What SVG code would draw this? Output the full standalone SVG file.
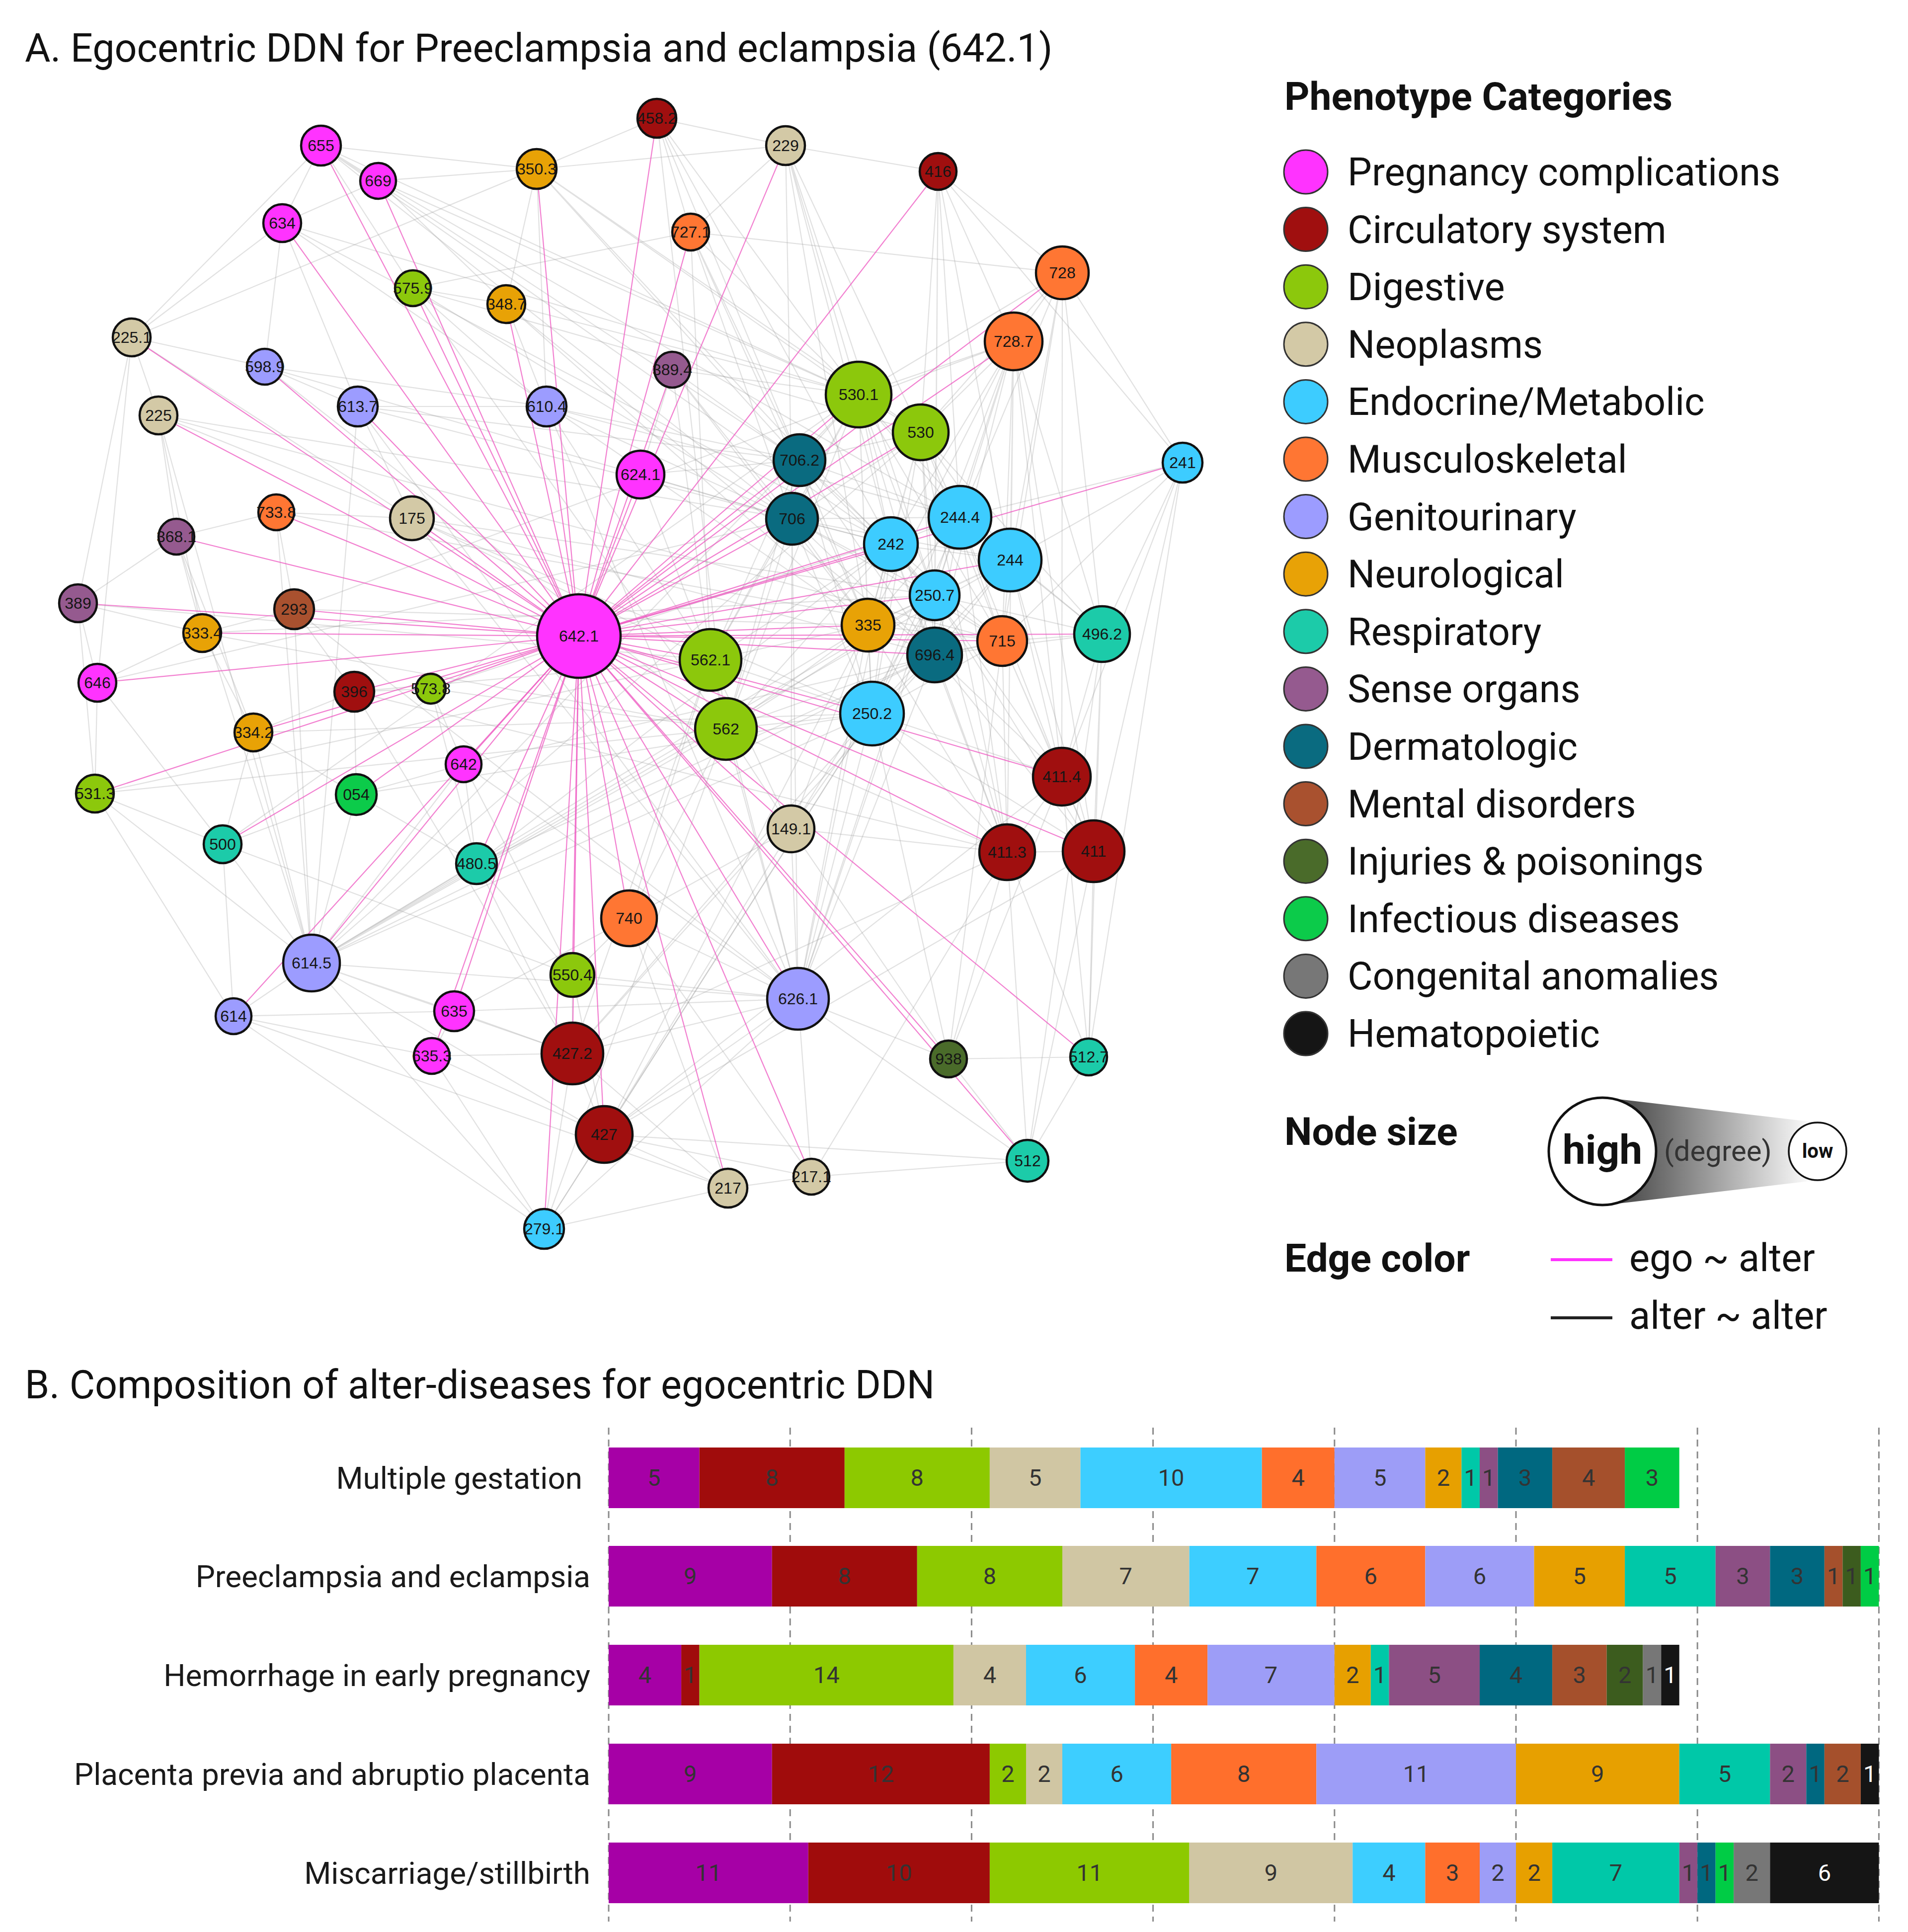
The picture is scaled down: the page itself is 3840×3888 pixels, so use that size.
<svg xmlns="http://www.w3.org/2000/svg" width="3840" height="3888" viewBox="0 0 3840 3888">
<defs>
<style>
.t{font-family:Roboto,"Liberation Sans",sans-serif;fill:#111}
.title{font-size:79px}
.hd{font-size:78.5px;font-weight:bold}
.lg{font-size:77.5px}
.rl{font-size:62px;text-anchor:end;fill:#1a1a1a}
.bn{font-family:Roboto,"Liberation Sans",sans-serif;font-size:47px;text-anchor:middle;fill:#333}
.bw{fill:#fff}
.nd circle{stroke:#111;stroke-width:4.5}
.nd text{font-family:"Liberation Sans",Arial,sans-serif;font-size:32px;text-anchor:middle;fill:#151515}
.lc{stroke:#333;stroke-width:3}
.ge{fill:none;stroke:#9c9c9c;stroke-opacity:0.3;stroke-width:2.2}
.pe line{stroke:#EE55C0;stroke-opacity:0.75;stroke-width:2.2}
.grid{stroke:#8a8a8a;stroke-width:3;stroke-dasharray:14 10}
.preg{fill:#FF33FF}.circ{fill:#A00F0F}.dig{fill:#8CC80C}.neo{fill:#D3C9A6}.endo{fill:#3DCCFF}.musc{fill:#FF7633}.gen{fill:#9C9CFF}.neuro{fill:#E8A206}.resp{fill:#1CCBA9}.sense{fill:#955A8F}.derm{fill:#0A6B80}.ment{fill:#A9512F}.inj{fill:#4A6B2A}.inf{fill:#0CCB4A}.cong{fill:#777777}.hem{fill:#151515}
.bpreg{fill:#A600A6}.bcirc{fill:#A00C0C}.bdig{fill:#8DC900}.bneo{fill:#D0C6A3}.bendo{fill:#3DCEFF}.bmusc{fill:#FF6F2C}.bgen{fill:#9D9DF7}.bneuro{fill:#E7A000}.bresp{fill:#00C8A8}.bsense{fill:#8C4F84}.bderm{fill:#006880}.bment{fill:#A5502C}.binj{fill:#3C5C1E}.binf{fill:#00CC45}.bcong{fill:#777777}.bhem{fill:#151515}
</style>
<linearGradient id="deg" x1="3290" y1="0" x2="3650" y2="0" gradientUnits="userSpaceOnUse">
<stop offset="0" stop-color="#555555"/>
<stop offset="1" stop-color="#ffffff"/>
</linearGradient>
</defs>
<rect x="0" y="0" width="3840" height="3888" fill="#ffffff"/>

<text class="t title" x="50" y="124">A. Egocentric DDN for Preeclampsia and eclampsia (642.1)</text>

<g id="connectors">
<g id="alter-alter-edges">
<path class="ge" d="M646 293L761 364M646 293L568 449M646 293L1080 340M646 293L831 580M646 293L1728 794M646 293L1609 926M646 293L1594 1044M646 293L265 679M646 293L1793 1095"/>
<path class="ge" d="M761 364L1080 340M761 364L1019 612M761 364L1728 794M761 364L1932 1041M761 364L568 449"/>
<path class="ge" d="M1080 340L1019 612M1080 340L1100 818M1080 340L1728 794M1080 340L1853 870M1080 340L1609 926M1080 340L1322 238M1080 340L1581 293M1080 340L1881 1198"/>
<path class="ge" d="M568 449L265 679M568 449L533 738M568 449L1728 794M568 449L1747 1258M568 449L1793 1095M568 449L720 818"/>
<path class="ge" d="M831 580L1019 612M831 580L1100 818M831 580L1853 870M831 580L1461 1467M831 580L1594 1044M831 580L1390 467"/>
<path class="ge" d="M1019 612L1100 818M1019 612L1747 1258M1019 612L1728 794M1019 612L1881 1318"/>
<path class="ge" d="M265 679L319 836M265 679L157 1214M265 679L196 1374M265 679L533 738M265 679L1080 340M265 679L829 1043"/>
<path class="ge" d="M533 738L720 818M533 738L1594 1044M533 738L1461 1467M533 738L1100 818"/>
<path class="ge" d="M319 836L355 1080M319 836L407 1274M319 836L1594 1044M319 836L2017 1290M319 836L627 1938M319 836L829 1043"/>
<path class="ge" d="M720 818L1100 818M720 818L829 1043M720 818L627 1938M720 818L1609 926M720 818L1606 2010M720 818L1793 1095"/>
<path class="ge" d="M1100 818L1430 1328M1100 818L1594 1044M1100 818L1606 2010M1100 818L1609 926M1100 818L1932 1041"/>
<path class="ge" d="M556 1031L592 1226M556 1031L829 1043M556 1031L627 1938M556 1031L2017 1290M556 1031L355 1080"/>
<path class="ge" d="M829 1043L1430 1328M829 1043L1755 1436M829 1043L1606 2010M829 1043L1881 1318M829 1043L1881 1198"/>
<path class="ge" d="M355 1080L157 1214M355 1080L510 1474M355 1080L627 1938M355 1080L407 1274"/>
<path class="ge" d="M157 1214L196 1374M157 1214L191 1597M157 1214L1430 1328M157 1214L407 1274"/>
<path class="ge" d="M592 1226L407 1274M592 1226L713 1392M592 1226L627 1938M592 1226L1606 2010M592 1226L2040 687M592 1226L1747 1258"/>
<path class="ge" d="M407 1274L510 1474M407 1274L196 1374M407 1274L1461 1467M407 1274L1881 1198"/>
<path class="ge" d="M196 1374L191 1597M196 1374L1594 1044M196 1374L448 1699"/>
<path class="ge" d="M713 1392L867 1386M713 1392L510 1474M713 1392L1152 2120M713 1392L1430 1328M713 1392L2027 1715M713 1392L717 1599"/>
<path class="ge" d="M867 1386L959 1738M867 1386L1461 1467M867 1386L1932 1041M867 1386L933 1538"/>
<path class="ge" d="M510 1474L448 1699M510 1474L627 1938M510 1474L717 1599M510 1474L1755 1436"/>
<path class="ge" d="M933 1538L959 1738M933 1538L717 1599M933 1538L627 1938M933 1538L1152 1962M933 1538L1606 2010M933 1538L2017 1290"/>
<path class="ge" d="M191 1597L448 1699M191 1597L470 2045M191 1597L627 1938M191 1597L1461 1467M191 1597L1430 1328"/>
<path class="ge" d="M717 1599L959 1738M717 1599L627 1938M717 1599L1755 1436M717 1599L448 1699"/>
<path class="ge" d="M448 1699L470 2045M448 1699L1152 1962M448 1699L1728 794M448 1699L627 1938"/>
<path class="ge" d="M959 1738L627 1938M959 1738L1152 2120M959 1738L1793 1095M959 1738L1152 1962M959 1738L1881 1318"/>
<path class="ge" d="M627 1938L470 2045M627 1938L914 2035M627 1938L1095 2473M627 1938L1152 2120M627 1938L1606 2010M627 1938L1755 1436M627 1938L1747 1258M627 1938L1728 794M627 1938L1461 1467M627 1938L1881 1318M627 1938L1853 870M627 1938L1881 1198M627 1938L2033 1127M627 1938L1216 2283"/>
<path class="ge" d="M1152 1962L1152 2120M1152 1962L1216 2283M1152 1962L1606 2010M1152 1962L1266 1848"/>
<path class="ge" d="M470 2045L914 2035M470 2045L1095 2473M470 2045L1465 2391M470 2045L869 2125"/>
<path class="ge" d="M914 2035L869 2125M914 2035L1152 2120M914 2035L1606 2010M914 2035L1266 1848"/>
<path class="ge" d="M869 2125L1152 2120M869 2125L1095 2473M869 2125L1216 2283"/>
<path class="ge" d="M1152 2120L1216 2283M1152 2120L1095 2473M1152 2120L1606 2010M1152 2120L1430 1328M1152 2120L1881 1318M1152 2120L1465 2391M1152 2120L1755 1436M1152 2120L2027 1715"/>
<path class="ge" d="M1216 2283L1095 2473M1216 2283L1606 2010M1216 2283L1633 2368M1216 2283L1465 2391M1216 2283L2068 2336M1216 2283L1755 1436M1216 2283L2201 1713M1216 2283L1747 1258M1216 2283L1881 1198M1216 2283L2137 1563"/>
<path class="ge" d="M1095 2473L1465 2391M1095 2473L1606 2010M1095 2473L1461 1467M1095 2473L1755 1436"/>
<path class="ge" d="M1322 238L1581 293M1322 238L1390 467M1322 238L1728 794M1322 238L1609 926M1322 238L1793 1095M1322 238L1461 1467"/>
<path class="ge" d="M1581 293L1888 345M1581 293L1390 467M1581 293L1728 794M1581 293L1853 870M1581 293L1881 1198M1581 293L1594 1044M1581 293L1793 1095M1581 293L1747 1258"/>
<path class="ge" d="M1888 345L2138 549M1888 345L2040 687M1888 345L1853 870M1888 345L1932 1041M1888 345L2033 1127M1888 345L2380 931M1888 345L1881 1198M1888 345L1881 1318"/>
<path class="ge" d="M1390 467L1728 794M1390 467L1609 926M1390 467L1594 1044M1390 467L2138 549M1390 467L1747 1258M1390 467L1430 1328"/>
<path class="ge" d="M2138 549L2040 687M2138 549L2380 931M2138 549L1728 794M2138 549L1853 870M2138 549L1932 1041M2138 549L2218 1276M2138 549L2017 1290M2138 549L2033 1127M2138 549L2137 1563"/>
<path class="ge" d="M2040 687L1728 794M2040 687L1853 870M2040 687L1793 1095M2040 687L2033 1127M2040 687L1881 1198M2040 687L2017 1290M2040 687L2218 1276M2040 687L2137 1563M2040 687L2027 1715M2040 687L2201 1713M2040 687L1881 1318M2040 687L1747 1258M2040 687L1755 1436M2040 687L1606 2010"/>
<path class="ge" d="M1353 744L1609 926M1353 744L1728 794M1353 744L1430 1328M1353 744L1594 1044M1353 744L1747 1258"/>
<path class="ge" d="M2380 931L2218 1276M2380 931L2191 2127M2380 931L2201 1713M2380 931L2033 1127M2380 931L1932 1041M2380 931L2017 1290M2380 931L2137 1563"/>
<path class="ge" d="M1289 955L1609 926M1289 955L1594 1044M1289 955L1430 1328M1289 955L1353 744"/>
<path class="ge" d="M1728 794L1853 870M1728 794L1609 926M1728 794L1594 1044M1728 794L1932 1041M1728 794L1793 1095M1728 794L2033 1127M1728 794L1881 1198M1728 794L1747 1258M1728 794L1881 1318M1728 794L2017 1290M1728 794L1430 1328M1728 794L1461 1467M1728 794L1755 1436"/>
<path class="ge" d="M1853 870L1609 926M1853 870L1594 1044M1853 870L1932 1041M1853 870L1793 1095M1853 870L2033 1127M1853 870L1881 1198M1853 870L1747 1258M1853 870L1881 1318M1853 870L2017 1290M1853 870L2218 1276M1853 870L1755 1436M1853 870L2027 1715"/>
<path class="ge" d="M1609 926L1594 1044M1609 926L1932 1041M1609 926L1793 1095M1609 926L1881 1198M1609 926L1747 1258M1609 926L1881 1318M1609 926L1430 1328M1609 926L1461 1467M1609 926L1755 1436"/>
<path class="ge" d="M1594 1044L1932 1041M1594 1044L1793 1095M1594 1044L2033 1127M1594 1044L1881 1198M1594 1044L1747 1258M1594 1044L1881 1318M1594 1044L2017 1290M1594 1044L1430 1328M1594 1044L1461 1467M1594 1044L1755 1436M1594 1044L1592 1668M1594 1044L1606 2010"/>
<path class="ge" d="M1932 1041L1793 1095M1932 1041L2033 1127M1932 1041L1881 1198M1932 1041L1747 1258M1932 1041L1881 1318M1932 1041L2017 1290M1932 1041L2218 1276M1932 1041L1755 1436M1932 1041L2137 1563M1932 1041L2027 1715"/>
<path class="ge" d="M1793 1095L2033 1127M1793 1095L1881 1198M1793 1095L1747 1258M1793 1095L1881 1318M1793 1095L2017 1290M1793 1095L1430 1328M1793 1095L1461 1467M1793 1095L1755 1436M1793 1095L2027 1715M1793 1095L1606 2010"/>
<path class="ge" d="M2033 1127L1881 1198M2033 1127L1747 1258M2033 1127L1881 1318M2033 1127L2017 1290M2033 1127L2218 1276M2033 1127L1755 1436M2033 1127L2137 1563M2033 1127L2201 1713"/>
<path class="ge" d="M1881 1198L1747 1258M1881 1198L1881 1318M1881 1198L2017 1290M1881 1198L2218 1276M1881 1198L1461 1467M1881 1198L1755 1436M1881 1198L2137 1563M1881 1198L2027 1715M1881 1198L2201 1713M1881 1198L1606 2010"/>
<path class="ge" d="M1747 1258L1881 1318M1747 1258L2017 1290M1747 1258L1430 1328M1747 1258L1461 1467M1747 1258L1755 1436M1747 1258L1592 1668M1747 1258L2027 1715M1747 1258L1606 2010"/>
<path class="ge" d="M1881 1318L2017 1290M1881 1318L2218 1276M1881 1318L1755 1436M1881 1318L2137 1563M1881 1318L2027 1715M1881 1318L2201 1713M1881 1318L1606 2010M1881 1318L1461 1467"/>
<path class="ge" d="M2017 1290L2218 1276M2017 1290L1755 1436M2017 1290L2137 1563M2017 1290L2027 1715M2017 1290L2201 1713M2017 1290L1909 2131"/>
<path class="ge" d="M2218 1276L2137 1563M2218 1276L2201 1713M2218 1276L2191 2127M2218 1276L2068 2336"/>
<path class="ge" d="M1430 1328L1461 1467M1430 1328L1755 1436M1430 1328L1592 1668M1430 1328L1266 1848M1430 1328L1606 2010"/>
<path class="ge" d="M1461 1467L1755 1436M1461 1467L1592 1668M1461 1467L1266 1848M1461 1467L1606 2010M1461 1467L2027 1715"/>
<path class="ge" d="M1755 1436L2137 1563M1755 1436L1592 1668M1755 1436L2027 1715M1755 1436L2201 1713M1755 1436L1606 2010M1755 1436L1909 2131"/>
<path class="ge" d="M2137 1563L2027 1715M2137 1563L2201 1713M2137 1563L1909 2131M2137 1563L2191 2127"/>
<path class="ge" d="M1592 1668L1606 2010M1592 1668L1909 2131M1592 1668L2027 1715M1592 1668L1266 1848"/>
<path class="ge" d="M2027 1715L2201 1713M2027 1715L1909 2131M2027 1715L2191 2127M2027 1715L2068 2336M2027 1715L1633 2368"/>
<path class="ge" d="M2201 1713L2191 2127M2201 1713L2068 2336M1266 1848L1606 2010M1266 1848L1465 2391M1266 1848L1633 2368M1606 2010L1909 2131M1606 2010L2068 2336M1606 2010L1633 2368M1909 2131L2191 2127M1909 2131L2068 2336M2191 2127L2068 2336M2068 2336L1633 2368M1465 2391L1633 2368"/>
</g>
<g id="ego-alter-edges" class="pe">
<line x1="1165" y1="1280" x2="646" y2="293"/>
<line x1="1165" y1="1280" x2="761" y2="364"/>
<line x1="1165" y1="1280" x2="1080" y2="340"/>
<line x1="1165" y1="1280" x2="568" y2="449"/>
<line x1="1165" y1="1280" x2="831" y2="580"/>
<line x1="1165" y1="1280" x2="1019" y2="612"/>
<line x1="1165" y1="1280" x2="265" y2="679"/>
<line x1="1165" y1="1280" x2="533" y2="738"/>
<line x1="1165" y1="1280" x2="319" y2="836"/>
<line x1="1165" y1="1280" x2="720" y2="818"/>
<line x1="1165" y1="1280" x2="1100" y2="818"/>
<line x1="1165" y1="1280" x2="556" y2="1031"/>
<line x1="1165" y1="1280" x2="829" y2="1043"/>
<line x1="1165" y1="1280" x2="355" y2="1080"/>
<line x1="1165" y1="1280" x2="157" y2="1214"/>
<line x1="1165" y1="1280" x2="592" y2="1226"/>
<line x1="1165" y1="1280" x2="407" y2="1274"/>
<line x1="1165" y1="1280" x2="196" y2="1374"/>
<line x1="1165" y1="1280" x2="713" y2="1392"/>
<line x1="1165" y1="1280" x2="867" y2="1386"/>
<line x1="1165" y1="1280" x2="510" y2="1474"/>
<line x1="1165" y1="1280" x2="933" y2="1538"/>
<line x1="1165" y1="1280" x2="191" y2="1597"/>
<line x1="1165" y1="1280" x2="717" y2="1599"/>
<line x1="1165" y1="1280" x2="448" y2="1699"/>
<line x1="1165" y1="1280" x2="959" y2="1738"/>
<line x1="1165" y1="1280" x2="627" y2="1938"/>
<line x1="1165" y1="1280" x2="1152" y2="1962"/>
<line x1="1165" y1="1280" x2="470" y2="2045"/>
<line x1="1165" y1="1280" x2="914" y2="2035"/>
<line x1="1165" y1="1280" x2="869" y2="2125"/>
<line x1="1165" y1="1280" x2="1152" y2="2120"/>
<line x1="1165" y1="1280" x2="1216" y2="2283"/>
<line x1="1165" y1="1280" x2="1095" y2="2473"/>
<line x1="1165" y1="1280" x2="1322" y2="238"/>
<line x1="1165" y1="1280" x2="1581" y2="293"/>
<line x1="1165" y1="1280" x2="1888" y2="345"/>
<line x1="1165" y1="1280" x2="1390" y2="467"/>
<line x1="1165" y1="1280" x2="2138" y2="549"/>
<line x1="1165" y1="1280" x2="2040" y2="687"/>
<line x1="1165" y1="1280" x2="1353" y2="744"/>
<line x1="1165" y1="1280" x2="1728" y2="794"/>
<line x1="1165" y1="1280" x2="1853" y2="870"/>
<line x1="1165" y1="1280" x2="2380" y2="931"/>
<line x1="1165" y1="1280" x2="1289" y2="955"/>
<line x1="1165" y1="1280" x2="1609" y2="926"/>
<line x1="1165" y1="1280" x2="1594" y2="1044"/>
<line x1="1165" y1="1280" x2="1932" y2="1041"/>
<line x1="1165" y1="1280" x2="1793" y2="1095"/>
<line x1="1165" y1="1280" x2="2033" y2="1127"/>
<line x1="1165" y1="1280" x2="1881" y2="1198"/>
<line x1="1165" y1="1280" x2="1747" y2="1258"/>
<line x1="1165" y1="1280" x2="1881" y2="1318"/>
<line x1="1165" y1="1280" x2="2017" y2="1290"/>
<line x1="1165" y1="1280" x2="2218" y2="1276"/>
<line x1="1165" y1="1280" x2="1430" y2="1328"/>
<line x1="1165" y1="1280" x2="1461" y2="1467"/>
<line x1="1165" y1="1280" x2="1755" y2="1436"/>
<line x1="1165" y1="1280" x2="2137" y2="1563"/>
<line x1="1165" y1="1280" x2="1592" y2="1668"/>
<line x1="1165" y1="1280" x2="2027" y2="1715"/>
<line x1="1165" y1="1280" x2="2201" y2="1713"/>
<line x1="1165" y1="1280" x2="1266" y2="1848"/>
<line x1="1165" y1="1280" x2="1606" y2="2010"/>
<line x1="1165" y1="1280" x2="1909" y2="2131"/>
<line x1="1165" y1="1280" x2="2191" y2="2127"/>
<line x1="1165" y1="1280" x2="2068" y2="2336"/>
<line x1="1165" y1="1280" x2="1465" y2="2391"/>
<line x1="1165" y1="1280" x2="1633" y2="2368"/>
</g>
</g>

<g id="nodes">
<g id="n655" class="nd"><circle cx="646" cy="293" r="40" class="preg"/><text x="646" y="304">655</text></g>
<g id="n669" class="nd"><circle cx="761" cy="364" r="36" class="preg"/><text x="761" y="375">669</text></g>
<g id="n350_3" class="nd"><circle cx="1080" cy="340" r="40" class="neuro"/><text x="1080" y="351">350.3</text></g>
<g id="n634" class="nd"><circle cx="568" cy="449" r="38" class="preg"/><text x="568" y="460">634</text></g>
<g id="n575_9" class="nd"><circle cx="831" cy="580" r="36" class="dig"/><text x="831" y="591">575.9</text></g>
<g id="n348_7" class="nd"><circle cx="1019" cy="612" r="38" class="neuro"/><text x="1019" y="623">348.7</text></g>
<g id="n225_1" class="nd"><circle cx="265" cy="679" r="38" class="neo"/><text x="265" y="690">225.1</text></g>
<g id="n598_9" class="nd"><circle cx="533" cy="738" r="36" class="gen"/><text x="533" y="749">598.9</text></g>
<g id="n225" class="nd"><circle cx="319" cy="836" r="38" class="neo"/><text x="319" y="847">225</text></g>
<g id="n613_7" class="nd"><circle cx="720" cy="818" r="40" class="gen"/><text x="720" y="829">613.7</text></g>
<g id="n610_4" class="nd"><circle cx="1100" cy="818" r="40" class="gen"/><text x="1100" y="829">610.4</text></g>
<g id="n733_8" class="nd"><circle cx="556" cy="1031" r="36" class="musc"/><text x="556" y="1042">733.8</text></g>
<g id="n175" class="nd"><circle cx="829" cy="1043" r="44" class="neo"/><text x="829" y="1054">175</text></g>
<g id="n368_1" class="nd"><circle cx="355" cy="1080" r="36" class="sense"/><text x="355" y="1091">368.1</text></g>
<g id="n389" class="nd"><circle cx="157" cy="1214" r="38" class="sense"/><text x="157" y="1225">389</text></g>
<g id="n293" class="nd"><circle cx="592" cy="1226" r="40" class="ment"/><text x="592" y="1237">293</text></g>
<g id="n333_4" class="nd"><circle cx="407" cy="1274" r="38" class="neuro"/><text x="407" y="1285">333.4</text></g>
<g id="n646" class="nd"><circle cx="196" cy="1374" r="38" class="preg"/><text x="196" y="1385">646</text></g>
<g id="n396" class="nd"><circle cx="713" cy="1392" r="40" class="circ"/><text x="713" y="1403">396</text></g>
<g id="n573_8" class="nd"><circle cx="867" cy="1386" r="30" class="dig"/><text x="867" y="1397">573.8</text></g>
<g id="n334_2" class="nd"><circle cx="510" cy="1474" r="38" class="neuro"/><text x="510" y="1485">334.2</text></g>
<g id="n642" class="nd"><circle cx="933" cy="1538" r="36" class="preg"/><text x="933" y="1549">642</text></g>
<g id="n531_3" class="nd"><circle cx="191" cy="1597" r="38" class="dig"/><text x="191" y="1608">531.3</text></g>
<g id="n054" class="nd"><circle cx="717" cy="1599" r="41" class="inf"/><text x="717" y="1610">054</text></g>
<g id="n500" class="nd"><circle cx="448" cy="1699" r="38" class="resp"/><text x="448" y="1710">500</text></g>
<g id="n480_5" class="nd"><circle cx="959" cy="1738" r="41" class="resp"/><text x="959" y="1749">480.5</text></g>
<g id="n614_5" class="nd"><circle cx="627" cy="1938" r="57" class="gen"/><text x="627" y="1949">614.5</text></g>
<g id="n550_4" class="nd"><circle cx="1152" cy="1962" r="44" class="dig"/><text x="1152" y="1973">550.4</text></g>
<g id="n614" class="nd"><circle cx="470" cy="2045" r="36" class="gen"/><text x="470" y="2056">614</text></g>
<g id="n635" class="nd"><circle cx="914" cy="2035" r="40" class="preg"/><text x="914" y="2046">635</text></g>
<g id="n635_3" class="nd"><circle cx="869" cy="2125" r="36" class="preg"/><text x="869" y="2136">635.3</text></g>
<g id="n427_2" class="nd"><circle cx="1152" cy="2120" r="62" class="circ"/><text x="1152" y="2131">427.2</text></g>
<g id="n427" class="nd"><circle cx="1216" cy="2283" r="57" class="circ"/><text x="1216" y="2294">427</text></g>
<g id="n279_1" class="nd"><circle cx="1095" cy="2473" r="40" class="endo"/><text x="1095" y="2484">279.1</text></g>
<g id="n458_2" class="nd"><circle cx="1322" cy="238" r="39" class="circ"/><text x="1322" y="249">458.2</text></g>
<g id="n229" class="nd"><circle cx="1581" cy="293" r="39" class="neo"/><text x="1581" y="304">229</text></g>
<g id="n416" class="nd"><circle cx="1888" cy="345" r="37" class="circ"/><text x="1888" y="356">416</text></g>
<g id="n727_1" class="nd"><circle cx="1390" cy="467" r="37" class="musc"/><text x="1390" y="478">727.1</text></g>
<g id="n728" class="nd"><circle cx="2138" cy="549" r="53" class="musc"/><text x="2138" y="560">728</text></g>
<g id="n728_7" class="nd"><circle cx="2040" cy="687" r="58" class="musc"/><text x="2040" y="698">728.7</text></g>
<g id="n389_4" class="nd"><circle cx="1353" cy="744" r="36" class="sense"/><text x="1353" y="755">389.4</text></g>
<g id="n530_1" class="nd"><circle cx="1728" cy="794" r="66" class="dig"/><text x="1728" y="805">530.1</text></g>
<g id="n530" class="nd"><circle cx="1853" cy="870" r="56" class="dig"/><text x="1853" y="881">530</text></g>
<g id="n241" class="nd"><circle cx="2380" cy="931" r="40" class="endo"/><text x="2380" y="942">241</text></g>
<g id="n624_1" class="nd"><circle cx="1289" cy="955" r="48" class="preg"/><text x="1289" y="966">624.1</text></g>
<g id="n706_2" class="nd"><circle cx="1609" cy="926" r="52" class="derm"/><text x="1609" y="937">706.2</text></g>
<g id="n706" class="nd"><circle cx="1594" cy="1044" r="52" class="derm"/><text x="1594" y="1055">706</text></g>
<g id="n244_4" class="nd"><circle cx="1932" cy="1041" r="63" class="endo"/><text x="1932" y="1052">244.4</text></g>
<g id="n242" class="nd"><circle cx="1793" cy="1095" r="54" class="endo"/><text x="1793" y="1106">242</text></g>
<g id="n244" class="nd"><circle cx="2033" cy="1127" r="63" class="endo"/><text x="2033" y="1138">244</text></g>
<g id="n250_7" class="nd"><circle cx="1881" cy="1198" r="50" class="endo"/><text x="1881" y="1209">250.7</text></g>
<g id="n335" class="nd"><circle cx="1747" cy="1258" r="53" class="neuro"/><text x="1747" y="1269">335</text></g>
<g id="n696_4" class="nd"><circle cx="1881" cy="1318" r="55" class="derm"/><text x="1881" y="1329">696.4</text></g>
<g id="n715" class="nd"><circle cx="2017" cy="1290" r="50" class="musc"/><text x="2017" y="1301">715</text></g>
<g id="n496_2" class="nd"><circle cx="2218" cy="1276" r="56" class="resp"/><text x="2218" y="1287">496.2</text></g>
<g id="n562_1" class="nd"><circle cx="1430" cy="1328" r="62" class="dig"/><text x="1430" y="1339">562.1</text></g>
<g id="n562" class="nd"><circle cx="1461" cy="1467" r="62" class="dig"/><text x="1461" y="1478">562</text></g>
<g id="n250_2" class="nd"><circle cx="1755" cy="1436" r="64" class="endo"/><text x="1755" y="1447">250.2</text></g>
<g id="n411_4" class="nd"><circle cx="2137" cy="1563" r="58" class="circ"/><text x="2137" y="1574">411.4</text></g>
<g id="n149_1" class="nd"><circle cx="1592" cy="1668" r="47" class="neo"/><text x="1592" y="1679">149.1</text></g>
<g id="n411_3" class="nd"><circle cx="2027" cy="1715" r="56" class="circ"/><text x="2027" y="1726">411.3</text></g>
<g id="n411" class="nd"><circle cx="2201" cy="1713" r="62" class="circ"/><text x="2201" y="1724">411</text></g>
<g id="n740" class="nd"><circle cx="1266" cy="1848" r="56" class="musc"/><text x="1266" y="1859">740</text></g>
<g id="n626_1" class="nd"><circle cx="1606" cy="2010" r="62" class="gen"/><text x="1606" y="2021">626.1</text></g>
<g id="n938" class="nd"><circle cx="1909" cy="2131" r="37" class="inj"/><text x="1909" y="2142">938</text></g>
<g id="n512_7" class="nd"><circle cx="2191" cy="2127" r="37" class="resp"/><text x="2191" y="2138">512.7</text></g>
<g id="n512" class="nd"><circle cx="2068" cy="2336" r="42" class="resp"/><text x="2068" y="2347">512</text></g>
<g id="n217" class="nd"><circle cx="1465" cy="2391" r="39" class="neo"/><text x="1465" y="2402">217</text></g>
<g id="n217_1" class="nd"><circle cx="1633" cy="2368" r="36" class="neo"/><text x="1633" y="2379">217.1</text></g>
<g id="n642_1" class="nd"><circle cx="1165" cy="1280" r="84" class="preg"/><text x="1165" y="1291">642.1</text></g>
</g>

<g id="legend">
<text class="t hd" x="2585" y="221">Phenotype Categories</text>
<circle class="lc preg" cx="2628" cy="346" r="44"/><text class="t lg" x="2712" y="373">Pregnancy complications</text>
<circle class="lc circ" cx="2628" cy="461.6" r="44"/><text class="t lg" x="2712" y="488.6">Circulatory system</text>
<circle class="lc dig" cx="2628" cy="577.2" r="44"/><text class="t lg" x="2712" y="604.2">Digestive</text>
<circle class="lc neo" cx="2628" cy="692.8" r="44"/><text class="t lg" x="2712" y="719.8">Neoplasms</text>
<circle class="lc endo" cx="2628" cy="808.4" r="44"/><text class="t lg" x="2712" y="835.4">Endocrine/Metabolic</text>
<circle class="lc musc" cx="2628" cy="924" r="44"/><text class="t lg" x="2712" y="951">Musculoskeletal</text>
<circle class="lc gen" cx="2628" cy="1039.6" r="44"/><text class="t lg" x="2712" y="1066.6">Genitourinary</text>
<circle class="lc neuro" cx="2628" cy="1155.2" r="44"/><text class="t lg" x="2712" y="1182.2">Neurological</text>
<circle class="lc resp" cx="2628" cy="1270.8" r="44"/><text class="t lg" x="2712" y="1297.8">Respiratory</text>
<circle class="lc sense" cx="2628" cy="1386.4" r="44"/><text class="t lg" x="2712" y="1413.4">Sense organs</text>
<circle class="lc derm" cx="2628" cy="1502" r="44"/><text class="t lg" x="2712" y="1529">Dermatologic</text>
<circle class="lc ment" cx="2628" cy="1617.6" r="44"/><text class="t lg" x="2712" y="1644.6">Mental disorders</text>
<circle class="lc inj" cx="2628" cy="1733.2" r="44"/><text class="t lg" x="2712" y="1760.2">Injuries &amp; poisonings</text>
<circle class="lc inf" cx="2628" cy="1848.8" r="44"/><text class="t lg" x="2712" y="1875.8">Infectious diseases</text>
<circle class="lc cong" cx="2628" cy="1964.4" r="44"/><text class="t lg" x="2712" y="1991.4">Congenital anomalies</text>
<circle class="lc hem" cx="2628" cy="2080" r="44"/><text class="t lg" x="2712" y="2107">Hematopoietic</text>

<text class="t hd" x="2585" y="2304">Node size</text>
<polygon points="3240,2210 3658,2259 3658,2375 3240,2424" fill="url(#deg)"/>
<circle cx="3225" cy="2317" r="108" fill="#ffffff" stroke="#111" stroke-width="5"/>
<circle cx="3658" cy="2317" r="58" fill="#ffffff" stroke="#111" stroke-width="3.5"/>
<text class="t" x="3225" y="2342" font-size="82" font-weight="bold" text-anchor="middle">high</text>
<text x="3349" y="2336" font-family="Roboto, 'Liberation Sans', sans-serif" font-size="58" fill="#333333">(degree)</text>
<text class="t" x="3658" y="2330" font-size="40" font-weight="bold" text-anchor="middle">low</text>

<text class="t hd" x="2585" y="2559">Edge color</text>
<line x1="3121" y1="2535" x2="3245" y2="2535" stroke="#FF33FF" stroke-width="6"/>
<text class="t lg" x="3279" y="2558">ego ~ alter</text>
<line x1="3121" y1="2652" x2="3245" y2="2652" stroke="#222" stroke-width="6"/>
<text class="t lg" x="3279" y="2674">alter ~ alter</text>
</g>

<text class="t title" x="50" y="2814">B. Composition of alter-diseases for egocentric DDN</text>

<g id="bar-chart">
<g id="gridlines">
<line class="grid" x1="1225" y1="2873" x2="1225" y2="3867"/>
<line class="grid" x1="1590.2" y1="2873" x2="1590.2" y2="3867"/>
<line class="grid" x1="1955.4" y1="2873" x2="1955.4" y2="3867"/>
<line class="grid" x1="2320.6" y1="2873" x2="2320.6" y2="3867"/>
<line class="grid" x1="2685.8" y1="2873" x2="2685.8" y2="3867"/>
<line class="grid" x1="3051" y1="2873" x2="3051" y2="3867"/>
<line class="grid" x1="3416.2" y1="2873" x2="3416.2" y2="3867"/>
<line class="grid" x1="3781.4" y1="2873" x2="3781.4" y2="3867"/>
</g>

<g id="row-multiple-gestation">
<text class="t rl" x="1172" y="2996">Multiple gestation</text>
<rect class="bpreg" x="1225" y="2913" width="182.6" height="122"/>
<rect class="bcirc" x="1407.6" y="2913" width="292.2" height="122"/>
<rect class="bdig" x="1699.8" y="2913" width="292.1" height="122"/>
<rect class="bneo" x="1991.9" y="2913" width="182.6" height="122"/>
<rect class="bendo" x="2174.5" y="2913" width="365.2" height="122"/>
<rect class="bmusc" x="2539.7" y="2913" width="146.1" height="122"/>
<rect class="bgen" x="2685.8" y="2913" width="182.6" height="122"/>
<rect class="bneuro" x="2868.4" y="2913" width="73" height="122"/>
<rect class="bresp" x="2941.4" y="2913" width="36.6" height="122"/>
<rect class="bsense" x="2978" y="2913" width="36.5" height="122"/>
<rect class="bderm" x="3014.5" y="2913" width="109.6" height="122"/>
<rect class="bment" x="3124.1" y="2913" width="146" height="122"/>
<rect class="binf" x="3270.1" y="2913" width="109.6" height="122"/>
<text class="bn" x="1316.3" y="2990">5</text>
<text class="bn" x="1553.7" y="2990">8</text>
<text class="bn" x="1845.8" y="2990">8</text>
<text class="bn" x="2083.2" y="2990">5</text>
<text class="bn" x="2357.1" y="2990">10</text>
<text class="bn" x="2612.7" y="2990">4</text>
<text class="bn" x="2777.1" y="2990">5</text>
<text class="bn" x="2904.9" y="2990">2</text>
<text class="bn" x="2959.7" y="2990">1</text>
<text class="bn" x="2996.2" y="2990">1</text>
<text class="bn" x="3069.3" y="2990">3</text>
<text class="bn" x="3197.1" y="2990">4</text>
<text class="bn" x="3324.9" y="2990">3</text>
</g>

<g id="row-preeclampsia">
<text class="t rl" x="1188" y="3194">Preeclampsia and eclampsia</text>
<rect class="bpreg" x="1225" y="3111" width="328.7" height="122"/>
<rect class="bcirc" x="1553.7" y="3111" width="292.1" height="122"/>
<rect class="bdig" x="1845.8" y="3111" width="292.2" height="122"/>
<rect class="bneo" x="2138" y="3111" width="255.6" height="122"/>
<rect class="bendo" x="2393.6" y="3111" width="255.7" height="122"/>
<rect class="bmusc" x="2649.3" y="3111" width="219.1" height="122"/>
<rect class="bgen" x="2868.4" y="3111" width="219.1" height="122"/>
<rect class="bneuro" x="3087.5" y="3111" width="182.6" height="122"/>
<rect class="bresp" x="3270.1" y="3111" width="182.6" height="122"/>
<rect class="bsense" x="3452.7" y="3111" width="109.6" height="122"/>
<rect class="bderm" x="3562.3" y="3111" width="109.5" height="122"/>
<rect class="bment" x="3671.8" y="3111" width="36.6" height="122"/>
<rect class="binj" x="3708.4" y="3111" width="36.5" height="122"/>
<rect class="binf" x="3744.9" y="3111" width="36.5" height="122"/>
<text class="bn" x="1389.3" y="3188">9</text>
<text class="bn" x="1699.8" y="3188">8</text>
<text class="bn" x="1991.9" y="3188">8</text>
<text class="bn" x="2265.8" y="3188">7</text>
<text class="bn" x="2521.4" y="3188">7</text>
<text class="bn" x="2758.8" y="3188">6</text>
<text class="bn" x="2978" y="3188">6</text>
<text class="bn" x="3178.8" y="3188">5</text>
<text class="bn" x="3361.4" y="3188">5</text>
<text class="bn" x="3507.5" y="3188">3</text>
<text class="bn" x="3617" y="3188">3</text>
<text class="bn" x="3690.1" y="3188">1</text>
<text class="bn" x="3726.6" y="3188">1</text>
<text class="bn" x="3763.1" y="3188">1</text>
</g>

<g id="row-hemorrhage">
<text class="t rl" x="1188" y="3393">Hemorrhage in early pregnancy</text>
<rect class="bpreg" x="1225" y="3310" width="146.1" height="122"/>
<rect class="bcirc" x="1371.1" y="3310" width="36.5" height="122"/>
<rect class="bdig" x="1407.6" y="3310" width="511.3" height="122"/>
<rect class="bneo" x="1918.9" y="3310" width="146.1" height="122"/>
<rect class="bendo" x="2065" y="3310" width="219.1" height="122"/>
<rect class="bmusc" x="2284.1" y="3310" width="146.1" height="122"/>
<rect class="bgen" x="2430.2" y="3310" width="255.6" height="122"/>
<rect class="bneuro" x="2685.8" y="3310" width="73" height="122"/>
<rect class="bresp" x="2758.8" y="3310" width="36.6" height="122"/>
<rect class="bsense" x="2795.4" y="3310" width="182.6" height="122"/>
<rect class="bderm" x="2978" y="3310" width="146.1" height="122"/>
<rect class="bment" x="3124.1" y="3310" width="109.5" height="122"/>
<rect class="binj" x="3233.6" y="3310" width="73" height="122"/>
<rect class="bcong" x="3306.6" y="3310" width="36.6" height="122"/>
<rect class="bhem" x="3343.2" y="3310" width="36.5" height="122"/>
<text class="bn" x="1298" y="3387">4</text>
<text class="bn" x="1389.3" y="3387">1</text>
<text class="bn" x="1663.3" y="3387">14</text>
<text class="bn" x="1991.9" y="3387">4</text>
<text class="bn" x="2174.5" y="3387">6</text>
<text class="bn" x="2357.1" y="3387">4</text>
<text class="bn" x="2558" y="3387">7</text>
<text class="bn" x="2722.3" y="3387">2</text>
<text class="bn" x="2777.1" y="3387">1</text>
<text class="bn" x="2886.7" y="3387">5</text>
<text class="bn" x="3051" y="3387">4</text>
<text class="bn" x="3178.8" y="3387">3</text>
<text class="bn" x="3270.1" y="3387">2</text>
<text class="bn" x="3324.9" y="3387">1</text>
<text class="bn bw" x="3361.4" y="3387">1</text>
</g>

<g id="row-placenta">
<text class="t rl" x="1188" y="3592">Placenta previa and abruptio placenta</text>
<rect class="bpreg" x="1225" y="3509" width="328.7" height="122"/>
<rect class="bcirc" x="1553.7" y="3509" width="438.2" height="122"/>
<rect class="bdig" x="1991.9" y="3509" width="73.1" height="122"/>
<rect class="bneo" x="2065" y="3509" width="73" height="122"/>
<rect class="bendo" x="2138" y="3509" width="219.1" height="122"/>
<rect class="bmusc" x="2357.1" y="3509" width="292.2" height="122"/>
<rect class="bgen" x="2649.3" y="3509" width="401.7" height="122"/>
<rect class="bneuro" x="3051" y="3509" width="328.7" height="122"/>
<rect class="bresp" x="3379.7" y="3509" width="182.6" height="122"/>
<rect class="bsense" x="3562.3" y="3509" width="73" height="122"/>
<rect class="bderm" x="3635.3" y="3509" width="36.5" height="122"/>
<rect class="bment" x="3671.8" y="3509" width="73.1" height="122"/>
<rect class="bhem" x="3744.9" y="3509" width="36.5" height="122"/>
<text class="bn" x="1389.3" y="3586">9</text>
<text class="bn" x="1772.8" y="3586">12</text>
<text class="bn" x="2028.4" y="3586">2</text>
<text class="bn" x="2101.5" y="3586">2</text>
<text class="bn" x="2247.6" y="3586">6</text>
<text class="bn" x="2503.2" y="3586">8</text>
<text class="bn" x="2850.1" y="3586">11</text>
<text class="bn" x="3215.3" y="3586">9</text>
<text class="bn" x="3471" y="3586">5</text>
<text class="bn" x="3598.8" y="3586">2</text>
<text class="bn" x="3653.6" y="3586">1</text>
<text class="bn" x="3708.4" y="3586">2</text>
<text class="bn bw" x="3763.1" y="3586">1</text>
</g>

<g id="row-miscarriage">
<text class="t rl" x="1188" y="3791">Miscarriage/stillbirth</text>
<rect class="bpreg" x="1225" y="3708" width="401.7" height="122"/>
<rect class="bcirc" x="1626.7" y="3708" width="365.2" height="122"/>
<rect class="bdig" x="1991.9" y="3708" width="401.7" height="122"/>
<rect class="bneo" x="2393.6" y="3708" width="328.7" height="122"/>
<rect class="bendo" x="2722.3" y="3708" width="146.1" height="122"/>
<rect class="bmusc" x="2868.4" y="3708" width="109.6" height="122"/>
<rect class="bgen" x="2978" y="3708" width="73" height="122"/>
<rect class="bneuro" x="3051" y="3708" width="73.1" height="122"/>
<rect class="bresp" x="3124.1" y="3708" width="255.6" height="122"/>
<rect class="bsense" x="3379.7" y="3708" width="36.5" height="122"/>
<rect class="bderm" x="3416.2" y="3708" width="36.5" height="122"/>
<rect class="binf" x="3452.7" y="3708" width="36.5" height="122"/>
<rect class="bcong" x="3489.2" y="3708" width="73.1" height="122"/>
<rect class="bhem" x="3562.3" y="3708" width="219.1" height="122"/>
<text class="bn" x="1425.9" y="3785">11</text>
<text class="bn" x="1809.3" y="3785">10</text>
<text class="bn" x="2192.8" y="3785">11</text>
<text class="bn" x="2558" y="3785">9</text>
<text class="bn" x="2795.4" y="3785">4</text>
<text class="bn" x="2923.2" y="3785">3</text>
<text class="bn" x="3014.5" y="3785">2</text>
<text class="bn" x="3087.6" y="3785">2</text>
<text class="bn" x="3251.9" y="3785">7</text>
<text class="bn" x="3398" y="3785">1</text>
<text class="bn" x="3434.5" y="3785">1</text>
<text class="bn" x="3471" y="3785">1</text>
<text class="bn" x="3525.8" y="3785">2</text>
<text class="bn bw" x="3671.9" y="3785">6</text>
</g>
</g>
</svg>
